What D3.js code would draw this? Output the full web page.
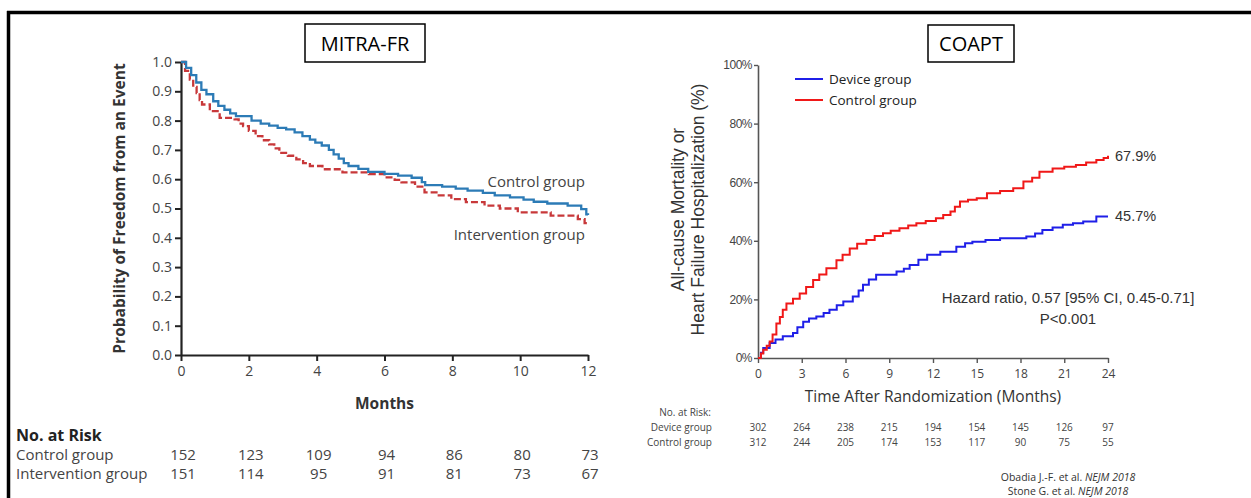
<!doctype html>
<html lang="en">
<head>
<meta charset="utf-8">
<title>MITRA-FR vs COAPT</title>
<script src="https://cdn.jsdelivr.net/npm/d3@7"></script>
<style>
  body { margin: 0; background: #fff; }
  svg { display: block; }
  .mitra text { font-family: "Open Sans", sans-serif; fill: #444; }
  .coapt text { font-family: "Open Sans", sans-serif; fill: #333; }
  .arial { font-family: "Liberation Sans", Arial, sans-serif !important; }
</style>
</head>
<body>
<svg width="1251" height="498"></svg>
<script>
// ---- MITRA-FR data ----
var mitraTicksX = [0, 2, 4, 6, 8, 10, 12];
var mitraTicksY = [0, 0.1, 0.2, 0.3, 0.4, 0.5, 0.6, 0.7, 0.8, 0.9, 1.0];
var mitraSeries = ["Control group", "Intervention group"];
var mitraControl = [[0,1],[0.15,0.98],[0.3,0.955],[0.45,0.93],[0.6,0.905],[0.75,0.89],[0.95,0.866],[1.1,0.85],[1.28,0.837],[1.45,0.825],[1.62,0.815],[2.08,0.80],[2.35,0.79],[2.6,0.783],[2.85,0.775],[3.1,0.77],[3.35,0.76],[3.58,0.747],[3.8,0.735],[3.96,0.725],[4.15,0.715],[4.36,0.70],[4.5,0.685],[4.65,0.67],[4.8,0.655],[4.94,0.645],[5.23,0.635],[5.52,0.625],[6.0,0.618],[6.4,0.612],[6.8,0.605],[7.1,0.59],[7.2,0.58],[7.7,0.575],[8.1,0.568],[8.45,0.561],[8.9,0.553],[9.25,0.545],[9.7,0.538],[10.1,0.53],[10.4,0.523],[10.8,0.517],[11.4,0.51],[11.8,0.498],[11.95,0.48],[12,0.478]];
var mitraIntervention = [[0,1],[0.12,0.97],[0.26,0.94],[0.36,0.915],[0.46,0.894],[0.55,0.87],[0.62,0.855],[0.85,0.832],[1.14,0.809],[1.58,0.804],[1.7,0.79],[1.83,0.781],[2.0,0.765],[2.2,0.747],[2.4,0.733],[2.6,0.719],[2.75,0.705],[2.9,0.69],[3.15,0.68],[3.4,0.668],[3.6,0.655],[3.8,0.645],[4.17,0.634],[4.76,0.623],[5.54,0.617],[6.0,0.606],[6.3,0.598],[6.5,0.589],[6.9,0.575],[7.18,0.555],[7.6,0.545],[7.97,0.532],[8.4,0.522],[8.95,0.51],[9.4,0.5],[9.93,0.487],[10.9,0.476],[11.7,0.464],[11.9,0.45],[12,0.445]];
var mitraRiskControl = [152, 123, 109, 94, 86, 80, 73];
var mitraRiskIntervention = [151, 114, 95, 91, 81, 73, 67];

// ---- COAPT data ----
var coaptTicksX = [0, 3, 6, 9, 12, 15, 18, 21, 24];
var coaptTicksY = [0, 20, 40, 60, 80, 100];
var coaptSeries = ["Device group", "Control group"];
var coaptDevice = [[0,0],[0.2,1.8],[0.36,3.4],[0.8,5.1],[1.2,6.3],[1.7,7.4],[2.4,8.5],[2.7,10.5],[3.1,12.4],[3.5,13.5],[4,14.2],[4.5,15.4],[4.9,16.5],[5.4,18],[5.85,19.3],[6.5,21],[6.9,23],[7.2,25],[7.6,26.8],[8.1,28.4],[9.5,29.5],[10.0,30.5],[10.4,31.7],[11.0,33.5],[11.6,35.2],[12.5,36.3],[13.6,38],[14.2,39.2],[14.7,39.7],[15.6,40.3],[16.6,40.9],[18.4,41.5],[19.0,42.5],[19.5,43.7],[20.2,44.5],[20.9,45.5],[21.6,46],[22.3,46.6],[23.2,48.3],[24,48.3]];
var coaptControl = [[0,0],[0.2,1.5],[0.36,2.8],[0.6,4.2],[0.8,5.6],[1.0,8],[1.26,11.8],[1.5,14],[1.7,16.5],[1.95,18.6],[2.4,20.2],[2.86,22],[3.3,24.2],[3.78,26.6],[4.2,28.5],[4.69,30.6],[5.38,33.4],[5.8,35.2],[6.29,37.4],[6.8,39],[7.43,40.3],[8.0,41.6],[8.57,42.6],[9.1,43.4],[9.7,44.3],[10.3,45.2],[10.86,46],[11.5,46.8],[12.2,47.7],[12.7,48.8],[13.2,50],[13.5,51.6],[13.85,53.4],[14.4,54],[15,54.5],[15.7,56.2],[16.6,57],[17.5,57.9],[18.2,60.2],[18.8,61.5],[19.3,63.6],[20.2,64.7],[21,65.3],[21.8,65.9],[22.5,66.7],[23.2,67.6],[23.7,68.3],[24,69]];
var coaptRiskDevice = [302, 264, 238, 215, 194, 154, 145, 126, 97];
var coaptRiskControl = [312, 244, 205, 174, 153, 117, 90, 75, 55];
var coaptEndLabels = ["67.9%", "45.7%"];

var svg = d3.select("svg");

// slide frame
svg.append("line").attr("x1", 7).attr("x2", 1251).attr("y1", 12.5).attr("y2", 12.5)
    .attr("stroke", "#000").attr("stroke-width", 3.5);
svg.append("line").attr("x1", 8.5).attr("x2", 8.5).attr("y1", 11).attr("y2", 498)
    .attr("stroke", "#000").attr("stroke-width", 3.5);

// ================= MITRA-FR =================
var mg = svg.append("g").attr("class", "mitra");
var mx = d3.scaleLinear().domain([0, 12]).range([181, 588]);
var my = d3.scaleLinear().domain([0, 1]).range([355, 62]);

mg.append("rect").attr("x", 305).attr("y", 24).attr("width", 120).attr("height", 38)
    .attr("fill", "#fff").attr("stroke", "#000").attr("stroke-width", 1.5);
mg.append("text").attr("x", 365).attr("y", 51).attr("text-anchor", "middle")
    .style("font-size", "20px").style("fill", "#000").text("MITRA-FR");

var mAxisX = mg.append("g").attr("transform", "translate(0," + my(0) + ")")
    .call(d3.axisBottom(mx).tickValues(mitraTicksX).tickSize(6).tickSizeOuter(0).tickPadding(5));
var mAxisY = mg.append("g").attr("transform", "translate(" + mx(0) + ",0)")
    .call(d3.axisLeft(my).tickValues(mitraTicksY).tickFormat(d3.format(".1f")).tickSize(6).tickSizeOuter(0).tickPadding(3));
[mAxisX, mAxisY].forEach(function(a) {
    a.select(".domain").attr("stroke", "#222").attr("stroke-width", 2.2);
    a.selectAll(".tick line").attr("stroke", "#222").attr("stroke-width", 2);
    a.selectAll(".tick text").style("font-size", "14px").style("fill", "#444")
        .style("font-family", "'Open Sans', sans-serif");
});

var mLine = d3.line().curve(d3.curveStepAfter)
    .x(function(d) { return mx(d[0]); })
    .y(function(d) { return my(d[1]); });

mg.append("path").datum(mitraIntervention).attr("d", mLine)
    .attr("fill", "none").attr("stroke", "#c8383a").attr("stroke-width", 2.3)
    .attr("stroke-dasharray", "7,3");
mg.append("path").datum(mitraControl).attr("d", mLine)
    .attr("fill", "none").attr("stroke", "#2c7bb6").attr("stroke-width", 2.3);

mg.append("text").attr("x", 585).attr("y", 187).attr("text-anchor", "end")
    .style("font-size", "15px").text(mitraSeries[0]);
mg.append("text").attr("x", 585).attr("y", 240).attr("text-anchor", "end")
    .style("font-size", "15px").text(mitraSeries[1]);

mg.append("text").attr("transform", "translate(125," + my(0.5) + ") rotate(-90)")
    .attr("text-anchor", "middle").style("font-size", "15.5px").style("font-weight", "bold")
    .style("fill", "#333").text("Probability of Freedom from an Event");
mg.append("text").attr("x", mx(6)).attr("y", 409).attr("text-anchor", "middle")
    .style("font-size", "15.5px").style("font-weight", "bold").style("fill", "#333").text("Months");

mg.append("text").attr("x", 16).attr("y", 441).style("font-size", "16px")
    .style("font-weight", "bold").style("fill", "#222").text("No. at Risk");
[[mitraSeries[0], mitraRiskControl, 460], [mitraSeries[1], mitraRiskIntervention, 479]].forEach(function(r) {
    mg.append("text").attr("x", 16).attr("y", r[2]).style("font-size", "15px").text(r[0]);
    mg.selectAll(null).data(r[1]).enter().append("text")
        .attr("x", function(d, i) { return mx(mitraTicksX[i]) + 2; })
        .attr("y", r[2]).attr("text-anchor", "middle").style("font-size", "15px")
        .text(function(d) { return d; });
});

// ================= COAPT =================
var cg = svg.append("g").attr("class", "coapt");
var cx = d3.scaleLinear().domain([0, 24]).range([758, 1108]);
var cy = d3.scaleLinear().domain([0, 100]).range([358, 65]);

cg.append("rect").attr("x", 928).attr("y", 25).attr("width", 86).attr("height", 37)
    .attr("fill", "#fff").attr("stroke", "#000").attr("stroke-width", 1.5);
cg.append("text").attr("x", 971).attr("y", 51).attr("text-anchor", "middle")
    .style("font-size", "20px").style("fill", "#000").text("COAPT");

var cAxisX = cg.append("g").attr("transform", "translate(0," + cy(0) + ")")
    .call(d3.axisBottom(cx).tickValues(coaptTicksX).tickSize(5).tickSizeOuter(0).tickPadding(6));
var cAxisY = cg.append("g").attr("transform", "translate(" + cx(0) + ",0)")
    .call(d3.axisLeft(cy).tickValues(coaptTicksY).tickFormat(function(d) { return d + "%"; })
        .tickSize(4).tickSizeOuter(0).tickPadding(2));
[cAxisX, cAxisY].forEach(function(a) {
    a.select(".domain").attr("stroke", "#555").attr("stroke-width", 1.6);
    a.selectAll(".tick line").attr("stroke", "#555").attr("stroke-width", 1.4);
});
cAxisX.selectAll(".tick text").style("font-size", "12px").style("fill", "#444")
    .style("font-family", "'Open Sans', sans-serif");
cAxisY.selectAll(".tick text").style("font-size", "12px").style("fill", "#444")
    .style("font-family", "'Liberation Sans', Arial, sans-serif").style("letter-spacing", "-0.5px");

var cLine = d3.line().curve(d3.curveStepAfter)
    .x(function(d) { return cx(d[0]); })
    .y(function(d) { return cy(d[1]); });
cg.append("path").datum(coaptDevice).attr("d", cLine)
    .attr("fill", "none").attr("stroke", "#1f1fe8").attr("stroke-width", 2);
cg.append("path").datum(coaptControl).attr("d", cLine)
    .attr("fill", "none").attr("stroke", "#f01818").attr("stroke-width", 2);

// legend
[[coaptSeries[0], "#1f1fe8", 79], [coaptSeries[1], "#f01818", 100]].forEach(function(l) {
    cg.append("line").attr("x1", 795).attr("x2", 823).attr("y1", l[2]).attr("y2", l[2])
        .attr("stroke", l[1]).attr("stroke-width", 2);
    cg.append("text").attr("x", 829).attr("y", l[2] + 5).style("font-size", "13.5px")
        .style("fill", "#222").text(l[0]);
});

// end-of-curve labels sit beside the last point of each curve
[[coaptEndLabels[0], coaptControl], [coaptEndLabels[1], coaptDevice]].forEach(function(e) {
    var last = e[1][e[1].length - 1];
    cg.append("text").attr("class", "arial").attr("x", cx(last[0]) + 7).attr("y", cy(last[1]) + 5)
        .style("font-size", "14.5px").style("fill", "#333").text(e[0]);
});

cg.append("text").attr("class", "arial").attr("x", 1068).attr("y", 303).attr("text-anchor", "middle")
    .style("font-size", "15px").style("fill", "#333").text("Hazard ratio, 0.57 [95% CI, 0.45-0.71]");
cg.append("text").attr("class", "arial").attr("x", 1068).attr("y", 324).attr("text-anchor", "middle")
    .style("font-size", "15px").style("fill", "#333").text("P<0.001");

cg.append("text").attr("x", 933).attr("y", 402).attr("text-anchor", "middle")
    .style("font-size", "15.5px").style("fill", "#333").text("Time After Randomization (Months)");

var ylab = cg.append("text").attr("transform", "translate(0," + (cy(50) - 2) + ") rotate(-90)")
    .attr("text-anchor", "middle").style("font-size", "17.5px").style("fill", "#333")
    .style("font-family", "'Liberation Sans', Arial, sans-serif");
ylab.append("tspan").attr("x", 0).attr("y", 684).text("All-cause Mortality or");
ylab.append("tspan").attr("x", 0).attr("y", 704).text("Heart Failure Hospitalization (%)");

cg.append("text").attr("x", 711).attr("y", 416).attr("text-anchor", "end")
    .style("font-size", "10px").style("fill", "#444").text("No. at Risk:");
[[coaptSeries[0], coaptRiskDevice, 431], [coaptSeries[1], coaptRiskControl, 446]].forEach(function(r) {
    cg.append("text").attr("x", 712).attr("y", r[2]).attr("text-anchor", "end")
        .style("font-size", "10px").style("fill", "#444").text(r[0]);
    cg.selectAll(null).data(r[1]).enter().append("text")
        .attr("x", function(d, i) { return cx(coaptTicksX[i]); })
        .attr("y", r[2]).attr("text-anchor", "middle").style("font-size", "10px").style("fill", "#444")
        .text(function(d) { return d; });
});

// references
var refs = [["Obadia J.-F. et al. ", "NEJM 2018", 481], ["Stone G. et al. ", "NEJM 2018", 495]];
refs.forEach(function(r) {
    var t = cg.append("text").attr("x", 1068).attr("y", r[2]).attr("text-anchor", "middle")
        .style("font-size", "10.5px").style("fill", "#333");
    t.append("tspan").text(r[0]);
    t.append("tspan").style("font-style", "italic").text(r[1]);
});
</script>
</body>
</html>
